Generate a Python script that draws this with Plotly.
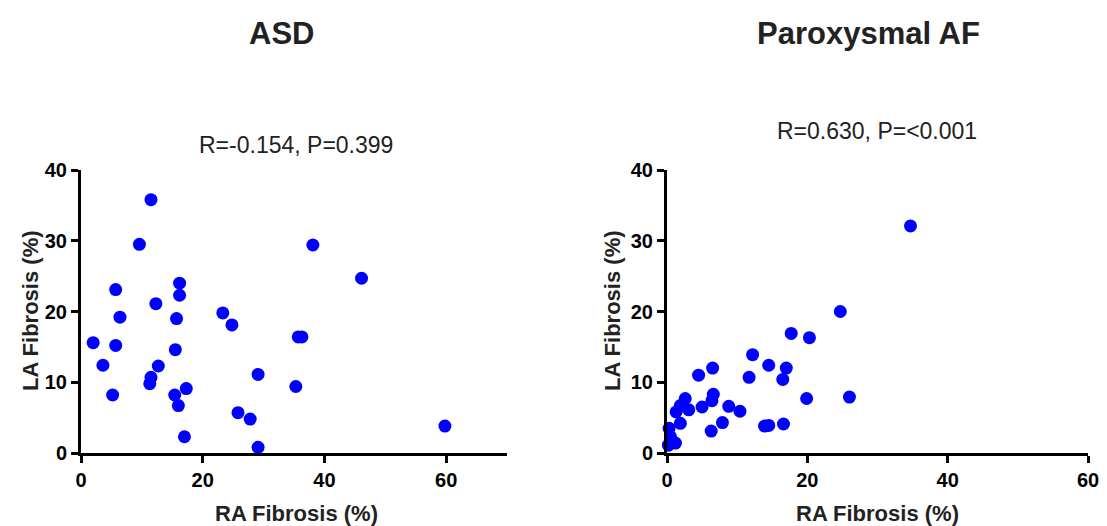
import plotly.graph_objects as go

# ASD group
asd_ra = [11.5, 9.6, 38.1, 46.1, 5.7, 16.2, 16.2, 12.3, 6.4, 23.3, 24.8, 15.7, 2.0, 5.7, 15.5,
          35.7, 36.3, 3.6, 12.7, 11.5, 11.3, 29.1, 35.3, 5.2, 15.4, 17.3, 16.0, 25.8, 27.8,
          17.0, 29.1, 59.8]
asd_la = [35.8, 29.5, 29.4, 24.7, 23.1, 24.0, 22.3, 21.1, 19.2, 19.8, 18.1, 19.0, 15.6, 15.2, 14.6,
          16.4, 16.4, 12.4, 12.3, 10.7, 9.8, 11.1, 9.4, 8.2, 8.2, 9.1, 6.7, 5.7, 4.8,
          2.3, 0.8, 3.8]

# Paroxysmal AF group
paf_ra = [34.7, 24.7, 17.7, 20.3, 12.2, 14.5, 17.0, 6.5, 4.5, 11.7, 16.5, 19.9, 26.0, 6.6, 6.4,
          2.6, 5.0, 8.8, 10.4, 3.1, 1.9, 1.3, 1.9, 7.9, 6.3, 13.9, 14.5, 16.6, 0.3, 0.5, 1.2, 0.2]
paf_la = [32.1, 20.0, 16.9, 16.3, 13.9, 12.4, 12.0, 12.0, 11.0, 10.7, 10.4, 7.7, 7.9, 8.3, 7.4,
          7.7, 6.5, 6.6, 5.9, 6.1, 6.7, 5.8, 4.2, 4.3, 3.1, 3.8, 3.9, 4.1, 3.5, 2.3, 1.4, 1.1]

titles = ["ASD", "Paroxysmal AF"]
stats = ["R=-0.154, P=0.399", "R=0.630, P=<0.001"]
x_title = "RA Fibrosis (%)"
y_title = "LA Fibrosis (%)"
x_ticks = [0, 20, 40, 60]
y_ticks = [0, 10, 20, 30, 40]

# page body has an 8px default margin; the figure is sized to fill the rest of the window
OFF = 8
W, H = 1107 - OFF, 526 - OFF
FONT = "Liberation Sans, Arial, Helvetica, sans-serif"
BLUE = "#0000FF"

fig = go.Figure()
fig.add_trace(go.Scatter(x=asd_ra, y=asd_la, mode="markers", xaxis="x", yaxis="y",
                         marker=dict(color=BLUE, size=13, line=dict(width=0)),
                         cliponaxis=False, showlegend=False))
fig.add_trace(go.Scatter(x=paf_ra, y=paf_la, mode="markers", xaxis="x2", yaxis="y2",
                         marker=dict(color=BLUE, size=13, line=dict(width=0)),
                         cliponaxis=False, showlegend=False))


def px(x):
    return (x - OFF) / W


def py(y):
    return 1 - (y - OFF) / H


ydom = [py(453), py(170)]
axis_common = dict(showline=True, linecolor="black", linewidth=3, ticks="outside",
                   ticklen=7, tickwidth=3, tickcolor="black", showgrid=False, zeroline=False,
                   tickfont=dict(family=FONT, size=20, color="black", weight="bold"),
                   automargin=False, fixedrange=True)

fig.update_layout(
    width=W, height=H,
    margin=dict(l=0, r=0, t=0, b=0),
    paper_bgcolor="white", plot_bgcolor="white",
    xaxis=dict(domain=[px(81), px(507)], range=[0, 70], tickvals=x_ticks, anchor="y", **axis_common),
    yaxis=dict(domain=ydom, range=[0, 40], tickvals=y_ticks, anchor="x", **axis_common),
    xaxis2=dict(domain=[px(667), px(1088)], range=[0, 60], tickvals=x_ticks, anchor="y2", **axis_common),
    yaxis2=dict(domain=ydom, range=[0, 40], tickvals=y_ticks, anchor="x2", **axis_common),
)

ann = []
title_x = [281, 868]
stat_y = [145, 131]
center_x = [296, 877]
ylab_x = [30, 612]
for i in range(2):
    ann.append(dict(text=titles[i], x=px(title_x[i]), y=py(33), xref="paper", yref="paper",
                    showarrow=False, xanchor="center", yanchor="middle",
                    font=dict(family=FONT, size=31, color="#222222", weight="bold")))
    ann.append(dict(text=stats[i], x=px(center_x[i]), y=py(stat_y[i]), xref="paper", yref="paper",
                    showarrow=False, xanchor="center", yanchor="middle",
                    font=dict(family=FONT, size=23, color="#222222")))
    ann.append(dict(text=x_title, x=px(center_x[i]), y=py(513), xref="paper", yref="paper",
                    showarrow=False, xanchor="center", yanchor="middle",
                    font=dict(family=FONT, size=22, color="#222222", weight="bold")))
    ann.append(dict(text=y_title, x=px(ylab_x[i]), y=py(311), xref="paper", yref="paper",
                    showarrow=False, xanchor="center", yanchor="middle", textangle=-90,
                    font=dict(family=FONT, size=22, color="#222222", weight="bold")))
fig.update_layout(annotations=ann)

fig.write_html("out.html")
